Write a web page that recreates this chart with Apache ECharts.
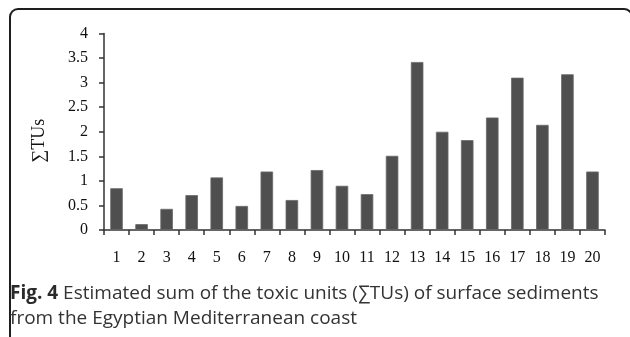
<!DOCTYPE html>
<html>
<head>
<meta charset="utf-8">
<script src="https://cdn.jsdelivr.net/npm/echarts@6/dist/echarts.min.js"></script>
<style>
  html, body { margin: 0; padding: 0; background: #fff; }
  #wrap { position: relative; width: 630px; height: 337px; overflow: hidden; }
  #frame {
    position: absolute; left: 9px; top: 8px; width: 624px; height: 420px;
    border: 2px solid #1e1e1e; border-radius: 9px; box-sizing: border-box;
  }
  #chart { position: absolute; left: 0; top: 0; width: 630px; height: 337px; }
</style>
</head>
<body>
<div id="wrap">
  <div id="frame"></div>
  <div id="chart"></div>
</div>
<script>
// Sampling stations along the coast
const stations = ['1','2','3','4','5','6','7','8','9','10','11','12','13','14','15','16','17','18','19','20'];
// Sum of toxic units per station
const sumTUs = [0.85, 0.12, 0.43, 0.71, 1.07, 0.49, 1.19, 0.61, 1.22, 0.90, 0.73, 1.51, 3.42, 2.00, 1.83, 2.29, 3.10, 2.14, 3.17, 1.19];
// Y axis range
const yMin = 0, yMax = 4, yStep = 0.5;

const chart = echarts.init(document.getElementById('chart'), null, { renderer: 'canvas' });
const serif = '"Liberation Serif", "DejaVu Serif", serif';
const sans = '"Open Sans", "Noto Sans", sans-serif';

chart.setOption({
  animation: false,
  backgroundColor: 'transparent',
  grid: { left: 104, right: 25, top: 33.5, bottom: 107 },
  xAxis: {
    type: 'category',
    data: stations,
    axisLine: { lineStyle: { color: '#333', width: 1.5 } },
    axisTick: { show: true, length: 5, alignWithLabel: false, lineStyle: { color: '#333', width: 1.5 } },
    axisLabel: { color: '#111', fontFamily: serif, fontSize: 16, margin: 20, interval: 0 }
  },
  yAxis: {
    type: 'value',
    min: yMin, max: yMax, interval: yStep,
    name: '∑TUs',
    nameLocation: 'middle',
    nameGap: 56,
    nameRotate: 90,
    nameTextStyle: { color: '#111', fontFamily: serif, fontSize: 18, padding: [0, 18, 0, 0] },
    axisLine: { show: true, lineStyle: { color: '#333', width: 1.5 } },
    axisTick: { show: true, length: 5, lineStyle: { color: '#333', width: 1.5 } },
    splitLine: { show: false },
    axisLabel: { color: '#111', fontFamily: serif, fontSize: 16, margin: 16 }
  },
  series: [{
    type: 'bar',
    data: sumTUs,
    barWidth: '50%',
    itemStyle: { color: '#4f4f4f', borderColor: '#6a6a6a', borderWidth: 0.8 }
  }],
  graphic: [
    {
      type: 'text',
      left: 10,
      top: 281,
      style: {
        text: '{b|Fig. 4} Estimated sum of the toxic units (∑TUs) of surface sediments\nfrom the Egyptian Mediterranean coast',
        fontFamily: sans,
        fontSize: 19,
        lineHeight: 25,
        fill: '#333',
        rich: {
          b: { fontWeight: 'bold', fontFamily: sans, fontSize: 19, fill: '#2a2a2a' }
        }
      }
    }
  ]
});
</script>
</body>
</html>
